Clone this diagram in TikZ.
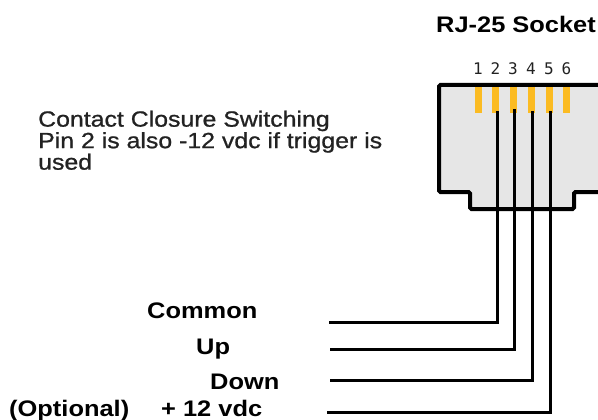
\documentclass[tikz,border=0pt]{standalone}
\usepackage{fontspec}
\setmainfont{Liberation Sans}[FakeStretch=1.13]
\newfontfamily\notefont{Liberation Sans}[FakeStretch=1.13, FakeBold=0.9]
\newfontfamily\pinfont{DejaVu Sans Mono}
\definecolor{padc}{HTML}{FBBB22}
\definecolor{sockc}{HTML}{E6E6E6}
\definecolor{txtc}{HTML}{222222}
\begin{document}
\begin{tikzpicture}[x=1pt,y=-1pt,
  wire/.style={line width=3pt, line join=miter},
  pad/.style={fill=padc, minimum width=7pt, minimum height=26pt, inner sep=0pt},
  pinnum/.style={font=\pinfont\fontsize{16}{16}\selectfont, text=txtc, anchor=base, inner sep=0pt},
  lbl/.style={font=\fontsize{22.5}{27}\selectfont\bfseries, inner sep=0pt, anchor=base west}]
\useasboundingbox (0,0) rectangle (598,420);
\begin{scope}
\clip (0,0) rectangle (598,420);
\path[fill=sockc, draw=black, line width=4pt, rounded corners=1.5pt]
  (439,85) -- (612,85) -- (612,192) -- (574,192) -- (574,209) -- (470,209) -- (470,192) -- (439,192) -- cycle;
\end{scope}
% title
\node[lbl] (title) at (436,33) {RJ-25 Socket};
% pads
\node[pad] (p1) at (478,100) {};
\node[pad] (p2) at (495.5,100) {};
\node[pad] (p3) at (513,100) {};
\node[pad] (p4) at (531,100) {};
\node[pad] (p5) at (549,100) {};
\node[pad] (p6) at (566.5,100) {};
% pin numbers
\node[pinnum] (n1) at (478,75) {1};
\node[pinnum] (n2) at (495.5,75) {2};
\node[pinnum] (n3) at (513,75) {3};
\node[pinnum] (n4) at (531,75) {4};
\node[pinnum] (n5) at (549,75) {5};
\node[pinnum] (n6) at (566.5,75) {6};
% note
\node[font=\notefont\fontsize{22}{21.5}\selectfont, text=txtc, align=left, anchor=north west, inner sep=0pt] (note) at (38,110.5)
  {Contact Closure Switching\\Pin 2 is also -12 vdc if trigger is\\used};
% labels
\node[lbl] (common) at (147,318) {Common};
\node[lbl] (up) at (196,354) {Up};
\node[lbl] (down) at (210,389) {Down};
\node[lbl] (opt) at (9,416) {(Optional)};
\node[lbl] (plus) at (161,416) {+ 12 vdc};
% wire ends
\coordinate (e2) at (329,322);
\coordinate (e3) at (330,349);
\coordinate (e4) at (330,380);
\coordinate (e5) at (327,412);
\draw[wire] ([xshift=1.5pt,yshift=2pt]p2.south) |- (e2);
\draw[wire] ([xshift=1.5pt,yshift=4pt]p3.south) |- (e3);
\draw[wire] ([xshift=1pt,yshift=2pt]p4.south) |- (e4);
\draw[wire] ([xshift=1pt,yshift=2pt]p5.south) |- (e5);
\end{tikzpicture}
\end{document}
